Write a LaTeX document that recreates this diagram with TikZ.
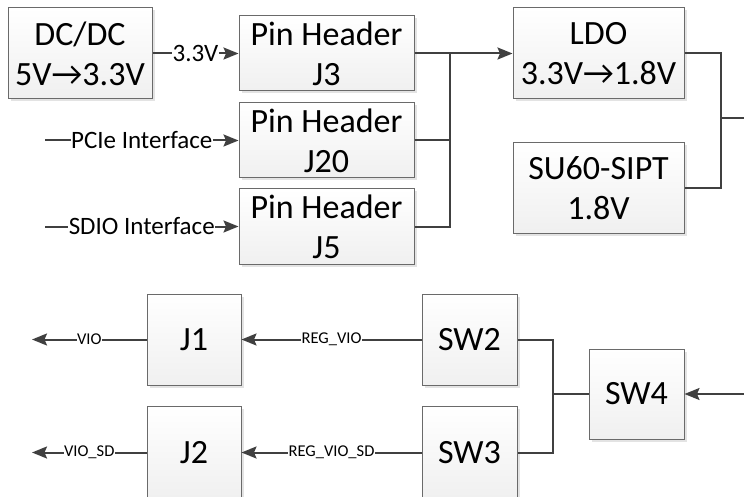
\documentclass[tikz,border=0pt]{standalone}
\usepackage{fontspec}
\setmainfont{Carlito}
\usetikzlibrary{arrows.meta,shadows}
\definecolor{lc}{HTML}{404040}
\definecolor{bc}{HTML}{6A6A6A}
\newcommand\bigf{\fontsize{34}{40}\selectfont}
\newcommand\midf{\fontsize{25}{29}\selectfont}
\newcommand\smlf{\fontsize{16.5}{20}\selectfont}
\tikzset{
  blk/.style={draw=bc, line width=1pt, top color=white, bottom color=gray!12,
    drop shadow={opacity=0.22, shadow xshift=2.5pt, shadow yshift=-2.5pt},
    inner sep=0pt, align=center, font=\bigf},
  conn/.style={draw=lc, line width=2pt},
  arr/.style={conn, -{Stealth[length=15pt,width=12pt,inset=2.5pt]}},
  mlbl/.style={fill=white, inner sep=0.5pt, font=\midf, text=black},
  slbl/.style={fill=white, inner sep=0.5pt, font=\smlf, text=black}
}
\begin{document}
\begin{tikzpicture}[x=1pt,y=-1pt]
\clip (0,0) rectangle (744,497);
\fill[white] (0,0) rectangle (744,497);
% top row
\node[blk, minimum width=144pt, minimum height=91pt] (dcdc) at (80,53.5) {DC/DC\\5V→3.3V};
\node[blk, minimum width=175pt, minimum height=75pt] (j3) at (326.5,53.5) {Pin Header\\J3};
\node[blk, minimum width=175pt, minimum height=75pt] (j20) at (326.5,140.5) {Pin Header\\J20};
\node[blk, minimum width=175pt, minimum height=75pt] (j5) at (326.5,226.5) {Pin Header\\J5};
\node[blk, minimum width=171pt, minimum height=91pt] (ldo) at (598.5,53.5) {LDO\\3.3V→1.8V};
\node[blk, minimum width=171pt, minimum height=90pt] (su60) at (598.5,188) {SU60-SIPT\\1.8V};
% bottom
\node[blk, minimum width=94pt, minimum height=91pt] (j1) at (194,339.5) {J1};
\node[blk, minimum width=94pt, minimum height=93pt] (j2) at (194,452.5) {J2};
\node[blk, minimum width=95pt, minimum height=91pt] (sw2) at (469.5,339.5) {SW2};
\node[blk, minimum width=95pt, minimum height=93pt] (sw3) at (469.5,452.5) {SW3};
\node[blk, minimum width=95pt, minimum height=90pt] (sw4) at (636.5,394) {SW4};
% coordinates
\coordinate (pcie) at (45,140.5);
\coordinate (sdio) at (45,226.5);
\coordinate (bus1) at (450,53.5);
\coordinate (busR) at (721,118);
\coordinate (outR) at (744,118);
\coordinate (busS) at (553,394);
\coordinate (inR) at (744,394);
\coordinate (vioend) at (32,339.5);
\coordinate (viosdend) at (32,452.5);
% connectors top
\draw[arr] (dcdc.east) -- node[mlbl]{3.3V} (j3.west);
\draw[arr] (pcie) -- node[mlbl]{PCIe Interface} (j20.west);
\draw[arr] (sdio) -- node[mlbl]{SDIO Interface} (j5.west);
\draw[arr] (j3.east) -- (ldo.west);
\draw[conn] (j20.east) -| (bus1);
\draw[conn] (j5.east) -| (bus1);
\draw[conn] (ldo.east) -| (busR);
\draw[conn] (su60.east) -| (busR);
\draw[conn] (busR) -- (outR);
% connectors bottom
\draw[arr] (inR) -- (sw4.east);
\draw[conn] (sw4.west) -- (busS);
\draw[conn] (sw2.east) -| (busS);
\draw[conn] (sw3.east) -| (busS);
\draw[arr] (sw2.west) -- node[slbl]{REG\_VIO} (j1.east);
\draw[arr] (sw3.west) -- node[slbl]{REG\_VIO\_SD} (j2.east);
\draw[arr] (j1.west) -- node[slbl]{VIO} (vioend);
\draw[arr] (j2.west) -- node[slbl]{VIO\_SD} (viosdend);
\end{tikzpicture}
\end{document}
